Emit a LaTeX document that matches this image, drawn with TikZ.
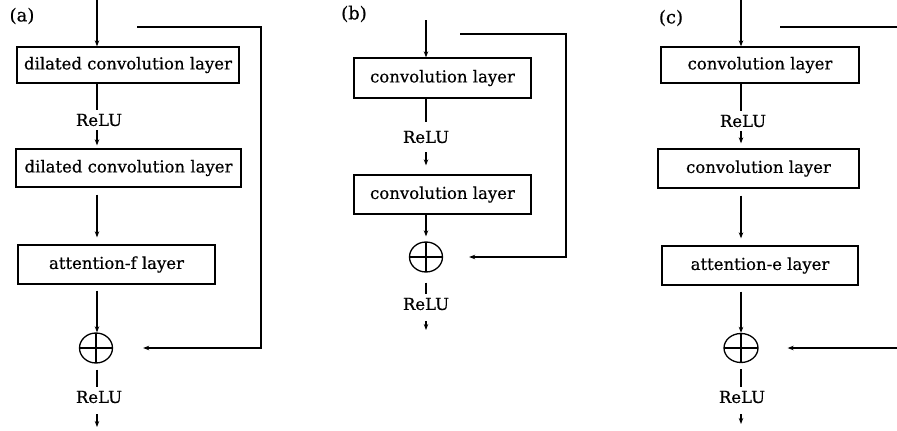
\documentclass[tikz,border=0pt]{standalone}
\usepackage{fontspec}
\setmainfont{DejaVu Serif}[FakeBold=0.6]
\usetikzlibrary{arrows.meta,shapes.geometric}
\begin{document}
\begin{tikzpicture}[x=1pt,y=-1pt,
  txt/.style={font=\fontsize{16.5}{18}\selectfont},
  layer/.style={draw,line width=1.3pt,inner sep=0pt,txt},
  lbl/.style={inner sep=1pt,font=\fontsize{18}{20}\selectfont},
  relu/.style={inner sep=4pt,txt},
  plus/.style={draw,ellipse,line width=1.3pt,minimum width=33pt,minimum height=30pt,inner sep=0pt,
    path picture={\draw[line width=1.3pt] (path picture bounding box.north) -- (path picture bounding box.south)
      (path picture bounding box.west) -- (path picture bounding box.east);}},
  conn/.style={line width=1.3pt},
  arr/.style={conn,-{Stealth[length=6pt,width=4.5pt]}},
]
\useasboundingbox (0,0) rectangle (897,431);

% ---------- (a) ----------
\node[lbl] (la) at (22,16) {(a)};
\coordinate (ina) at (97,0);
\node[layer,minimum width=222pt,minimum height=36pt] (a1) at (128,65) {dilated convolution layer};
\node[relu] (ra1) at (99,120) {ReLU};
\node[layer,minimum width=225pt,minimum height=38pt] (a2) at (128.5,168) {dilated convolution layer};
\node[layer,minimum width=197pt,minimum height=39pt] (a3) at (116.5,264.5) {attention-f layer};
\node[plus] (pa) at (96,348) {};
\node[relu] (ra2) at (99,397) {ReLU};
\coordinate (oa) at (97,427);
\coordinate (fa1) at (137,27);
\coordinate (fa2) at (261,27);
\coordinate (fa3) at (261,348);

\draw[arr] (ina) -- (a1.north -| ina);
\draw[conn] (a1.south -| ina) -- (ra1.north -| ina);
\draw[arr,shorten >=3pt] (ra1.south -| ina) -- (a2.north -| ina);
\draw[arr,shorten <=7pt,shorten >=7pt] (a2.south -| ina) -- (a3.north -| ina);
\draw[arr,shorten <=6pt] (a3.south -| ina) -- (pa.north -| ina);
\draw[conn,shorten <=6pt] (pa.south -| ina) -- (ra2.north -| ina);
\draw[arr,shorten <=7pt] (ra2.south -| ina) -- (oa);
\draw[arr,shorten >=30pt] (fa1) -- (fa2) -- (fa3) -- (pa.east);

% ---------- (b) ----------
\node[lbl] (lb) at (354,14) {(b)};
\coordinate (inb) at (426,20);
\node[layer,minimum width=177pt,minimum height=40pt] (b1) at (442.5,78) {convolution layer};
\node[relu] (rb1) at (426,137) {ReLU};
\node[layer,minimum width=177pt,minimum height=39pt] (b2) at (442.5,194.5) {convolution layer};
\node[plus] (pb) at (426,257) {};
\node[relu] (rb2) at (426,304) {ReLU};
\coordinate (ob) at (426,330);
\coordinate (fb1) at (460,34);
\coordinate (fb2) at (566,34);
\coordinate (fb3) at (566,257);

\draw[arr] (inb) -- (b1.north -| inb);
\draw[conn,shorten >=5pt] (b1.south -| inb) -- (rb1.north -| inb);
\draw[arr,shorten <=5pt,shorten >=9pt] (rb1.south -| inb) -- (b2.north -| inb);
\draw[arr,shorten >=5pt] (b2.south -| inb) -- (pb.north);
\draw[conn,shorten <=10pt] (pb.south) -- (rb2.north -| inb);
\draw[arr,shorten <=7pt] (rb2.south -| inb) -- (ob);
\draw[arr,shorten >=26pt] (fb1) -- (fb2) -- (fb3) -- (pb.east);

% ---------- (c) ----------
\node[lbl] (lc) at (671,18) {(c)};
\coordinate (inc) at (741,0);
\node[layer,minimum width=198pt,minimum height=36pt] (c1) at (760,65) {convolution layer};
\node[relu] (rc1) at (743,121) {ReLU};
\node[layer,minimum width=201pt,minimum height=39pt] (c2) at (758.5,168.5) {convolution layer};
\node[layer,minimum width=196pt,minimum height=39pt] (c3) at (760,265.5) {attention-e layer};
\node[plus,minimum width=34pt,minimum height=29pt] (pc) at (741,348) {};
\node[relu] (rc2) at (742,397) {ReLU};
\coordinate (oc) at (741,424);
\coordinate (fc1) at (780,27);
\coordinate (fc2) at (897,27);
\coordinate (fc3) at (897,348);

\draw[arr] (inc) -- (c1.north -| inc);
\draw[conn] (c1.south -| inc) -- (rc1.north -| inc);
\draw[arr,shorten >=5pt] (rc1.south -| inc) -- (c2.north -| inc);
\draw[arr,shorten <=7pt,shorten >=7pt] (c2.south -| inc) -- (c3.north -| inc);
\draw[arr,shorten <=6pt] (c3.south -| inc) -- (pc.north);
\draw[conn,shorten <=6pt] (pc.south) -- (rc2.north -| inc);
\draw[arr,shorten <=7pt] (rc2.south -| inc) -- (oc);
\draw[conn] (fc1) -- (fc2);
\draw[arr,shorten >=29pt] (fc3) -- (pc.east);
\end{tikzpicture}
\end{document}
